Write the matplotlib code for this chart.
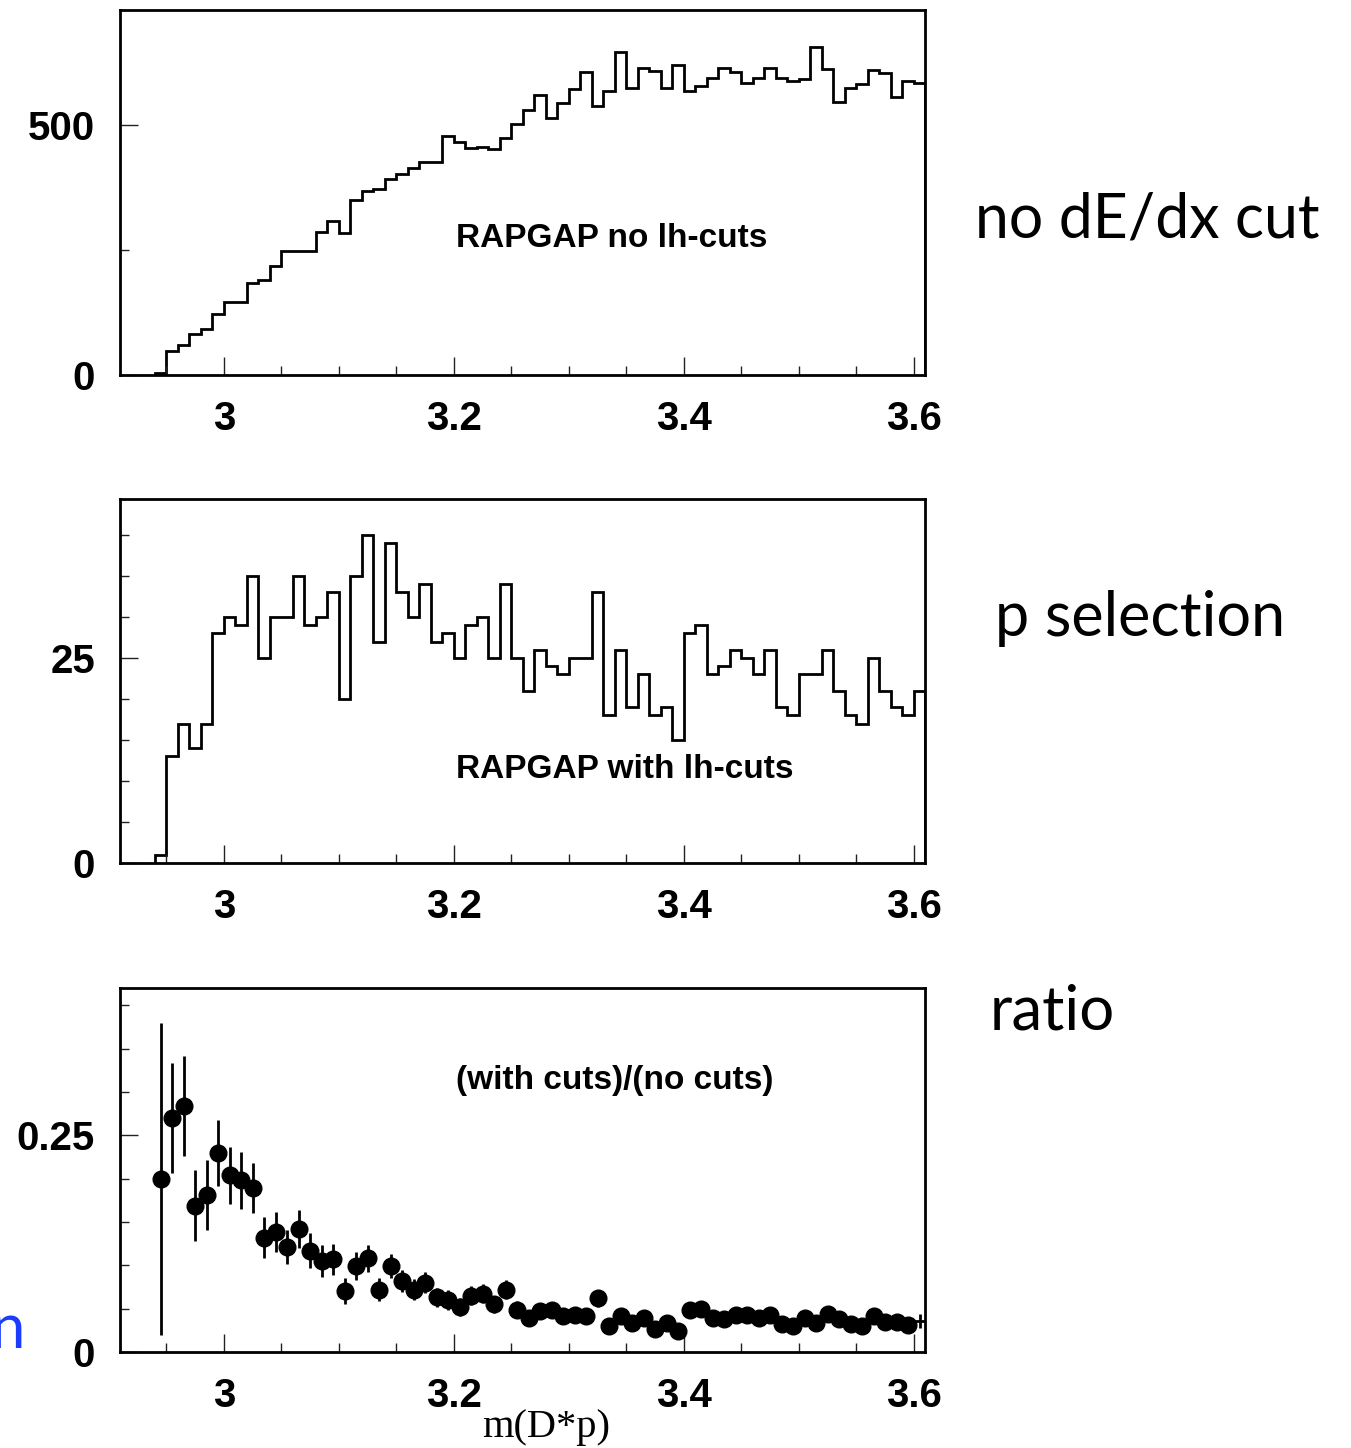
import numpy as np
import matplotlib
matplotlib.use("Agg")
import matplotlib.pyplot as plt
from matplotlib.ticker import FixedLocator, FixedFormatter

# ---------------- data ----------------
bin_start = 2.94
bin_width = 0.01

no_cuts = [5, 49, 60, 83, 93, 122, 147, 147, 185, 190,
           219, 248, 248, 248, 287, 309, 285, 351, 369, 373,
           392, 402, 415, 427, 427, 478, 467, 455, 457, 453,
           475, 502, 530, 560, 515, 545, 572, 607, 538, 569,
           646, 574, 615, 609, 575, 620, 568, 579, 595, 615,
           606, 585, 595, 615, 595, 589, 593, 657, 613, 547,
           574, 583, 611, 605, 557, 588, 585]

with_cuts = [1, 13, 17, 14, 17, 28, 30, 29, 35, 25,
             30, 30, 35, 29, 30, 33, 20, 35, 40, 27,
             39, 33, 30, 34, 27, 28, 25, 29, 30, 25,
             34, 25, 21, 26, 24, 23, 25, 25, 33, 18,
             26, 19, 23, 18, 19, 15, 28, 29, 23, 24,
             26, 25, 23, 26, 19, 18, 23, 23, 26, 21,
             18, 17, 25, 21, 19, 18, 21]

ratio = [0.200, 0.270, 0.284, 0.169, 0.181, 0.230, 0.204, 0.198, 0.189, 0.132,
         0.138, 0.121, 0.142, 0.117, 0.105, 0.107, 0.070, 0.099, 0.108, 0.072,
         0.099, 0.082, 0.072, 0.080, 0.063, 0.060, 0.052, 0.065, 0.067, 0.055,
         0.072, 0.049, 0.039, 0.047, 0.048, 0.042, 0.043, 0.041, 0.062, 0.030,
         0.041, 0.034, 0.039, 0.027, 0.033, 0.024, 0.049, 0.050, 0.039, 0.038,
         0.043, 0.043, 0.039, 0.043, 0.032, 0.030, 0.039, 0.034, 0.044, 0.038,
         0.032, 0.030, 0.042, 0.035, 0.035, 0.031, 0.036]

ratio_err = [0.180, 0.063, 0.058, 0.041, 0.040, 0.038, 0.033, 0.033, 0.029, 0.024,
             0.023, 0.020, 0.022, 0.020, 0.018, 0.018, 0.015, 0.016, 0.016, 0.013,
             0.014, 0.013, 0.012, 0.012, 0.011, 0.011, 0.010, 0.011, 0.011, 0.010,
             0.011, 0.010, 0.009, 0.009, 0.009, 0.009, 0.009, 0.008, 0.010, 0.007,
             0.008, 0.007, 0.008, 0.006, 0.007, 0.006, 0.009, 0.009, 0.008, 0.008,
             0.008, 0.008, 0.008, 0.008, 0.007, 0.007, 0.008, 0.007, 0.008, 0.008,
             0.007, 0.007, 0.008, 0.007, 0.007, 0.007, 0.008]

x_major = [3.0, 3.2, 3.4, 3.6]
x_major_labels = ["3", "3.2", "3.4", "3.6"]

# --------------- layout ----------------
W, H = 1351, 1448
fig = plt.figure(figsize=(W / 100, H / 100), dpi=100)
fig.patch.set_facecolor("white")

n = len(no_cuts)
edges = np.round(bin_start + bin_width * np.arange(n + 1), 4)
centers = edges[:-1] + bin_width / 2

TICKFONT = dict(family="Liberation Sans", weight="bold", size=29)


def px_axes(left, top, right, bottom):
    return fig.add_axes([left / W, 1 - bottom / H, (right - left) / W, (bottom - top) / H])


def style(ax, ymax, ymajor, ylabels, yminor):
    ax.set_xlim(2.9096, 3.6096)
    ax.set_ylim(0, ymax)
    for s in ax.spines.values():
        s.set_linewidth(2.0)
    ax.xaxis.set_major_locator(FixedLocator(x_major))
    ax.xaxis.set_major_formatter(FixedFormatter(x_major_labels))
    ax.xaxis.set_minor_locator(FixedLocator([2.95, 3.05, 3.1, 3.15, 3.25, 3.3, 3.35,
                                             3.45, 3.5, 3.55]))
    ax.yaxis.set_major_locator(FixedLocator(ymajor))
    ax.yaxis.set_major_formatter(FixedFormatter(ylabels))
    ax.yaxis.set_minor_locator(FixedLocator(yminor))
    ax.tick_params(which="both", direction="in", top=False, right=False,
                   color="#222222", width=1.0)
    ax.tick_params(which="major", length=13, pad=18)
    ax.tick_params(which="minor", length=6.5)
    for lab in ax.get_xticklabels() + ax.get_yticklabels():
        lab.set_fontfamily(TICKFONT["family"])
        lab.set_fontweight(TICKFONT["weight"])
        lab.set_fontsize(TICKFONT["size"])


TXT = dict(family="Liberation Sans", weight="bold", size=24, ha="center", va="center")

# top panel
ax1 = px_axes(120, 10, 925, 375)
ax1.stairs(no_cuts, edges, color="black", linewidth=2.0)
style(ax1, 730, [0, 500], ["0", "500"], [250])
ax1.text(0.611, 0.375, "RAPGAP no lh-cuts", transform=ax1.transAxes, **TXT)

# middle panel
ax2 = px_axes(120, 499, 925, 863)
ax2.stairs(with_cuts, edges, color="black", linewidth=2.0)
style(ax2, 44.4, [0, 25], ["0", "25"], [5, 10, 15, 20, 30, 35, 40])
ax2.text(0.627, 0.2555, "RAPGAP with lh-cuts", transform=ax2.transAxes, **TXT)

# bottom panel
ax3 = px_axes(120, 988, 925, 1352)
ax3.errorbar(centers[:-1], ratio[:-1], yerr=ratio_err[:-1], xerr=bin_width / 2,
             fmt="o", color="black", markersize=12, elinewidth=2.0, capsize=0,
             clip_on=True)
ax3.errorbar(centers[-1:], ratio[-1:], yerr=ratio_err[-1:], xerr=bin_width / 2,
             fmt="none", ecolor="black", elinewidth=2.0, capsize=0)
style(ax3, 0.42, [0, 0.25], ["0", "0.25"],
      [0.05, 0.1, 0.15, 0.2, 0.3, 0.35, 0.4])
ax3.text(0.615, 0.747, "(with cuts)/(no cuts)", transform=ax3.transAxes, **TXT)

# right-hand annotations
RFONT = dict(family="Lato", size=46, weight="normal")
t1 = fig.text(975 / W, 1 - 238 / H, "no dE/dx cut", ha="left", va="baseline", **RFONT)
t2 = fig.text(995 / W, 1 - 636 / H, "p selection", ha="left", va="baseline", **RFONT)
t3 = fig.text(990 / W, 1 - 1030 / H, "ratio", ha="left", va="baseline", **RFONT)
t4 = fig.text(25 / W, 1 - 1348 / H, "n", ha="right", va="baseline",
              color="#1a3cff", **RFONT)
t5 = fig.text(546 / W, 1 - 1437 / H, "m(D*p)", ha="center", va="baseline",
              family="Liberation Serif", size=29)

fig.canvas.draw()
r = fig.canvas.get_renderer()
for t, target in [(t1, 345), (t2, 290), (t3, 125), (t5, 128)]:
    w = t.get_window_extent(renderer=r).width
    t.set_fontsize(t.get_fontsize() * target / w)
t4.set_fontsize(t3.get_fontsize())

fig.savefig("out.png", dpi=100, facecolor="white")
